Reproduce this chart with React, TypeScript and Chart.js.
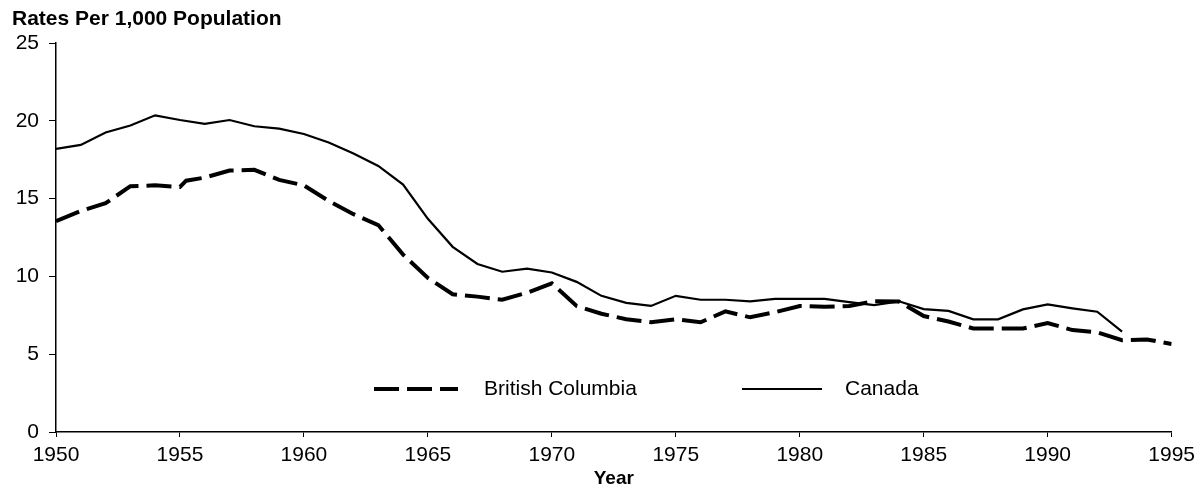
import React, { useEffect, useRef } from "react";
import { Chart, registerables } from "chart.js";

Chart.register(...registerables);

// ---- Data ----
const canadaYears = [
  1950, 1951, 1952, 1953, 1954, 1955, 1956, 1957, 1958, 1959,
  1960, 1961, 1962, 1963, 1964, 1965, 1966, 1967, 1968, 1969,
  1970, 1971, 1972, 1973, 1974, 1975, 1976, 1977, 1978, 1979,
  1980, 1981, 1982, 1983, 1984, 1985, 1986, 1987, 1988, 1989,
  1990, 1991, 1992, 1993,
];
const canadaRates = [
  18.2, 18.45, 19.25, 19.7, 20.35, 20.05, 19.8, 20.05, 19.65, 19.5,
  19.15, 18.6, 17.9, 17.1, 15.9, 13.7, 11.9, 10.8, 10.3, 10.5,
  10.25, 9.65, 8.75, 8.3, 8.1, 8.75, 8.5, 8.5, 8.4, 8.55,
  8.55, 8.55, 8.35, 8.15, 8.4, 7.9, 7.78, 7.24, 7.24, 7.88,
  8.2, 7.95, 7.73, 6.45,
];

const bcYears = [
  1950, 1951, 1952, 1953, 1954, 1955, 1955.25, 1956, 1957, 1958, 1959,
  1960, 1961, 1962, 1963, 1964, 1965, 1966, 1967, 1968, 1969,
  1970, 1971, 1972, 1973, 1974, 1975, 1976, 1977, 1978, 1979,
  1980, 1981, 1982, 1983, 1984, 1985, 1986, 1987, 1988, 1989,
  1990, 1991, 1992, 1993, 1994, 1995,
];
const bcRates = [
  13.55, 14.2, 14.7, 15.8, 15.85, 15.75, 16.15, 16.35, 16.8, 16.85, 16.2,
  15.85, 14.85, 14.0, 13.3, 11.4, 9.9, 8.85, 8.7, 8.5, 8.95,
  9.55, 8.1, 7.6, 7.25, 7.05, 7.25, 7.05, 7.75, 7.37, 7.7,
  8.1, 8.05, 8.1, 8.4, 8.38, 7.45, 7.1, 6.65, 6.65, 6.65,
  7.0, 6.55, 6.4, 5.9, 5.95, 5.65,
];

const xTickValues = [1950, 1955, 1960, 1965, 1970, 1975, 1980, 1985, 1990, 1995];
const yTickValues = [0, 5, 10, 15, 20, 25];

const seriesLabels = ["British Columbia", "Canada"];
const chartTitle = "Rates Per 1,000 Population";
const xAxisTitle = "Year";

const FONT = '"Liberation Sans", Arial, Helvetica, sans-serif';

const topTitlePlugin = {
  id: "topTitle",
  afterDraw(chart: any, _args: any, opts: any) {
    const ctx = chart.ctx;
    ctx.save();
    ctx.fillStyle = "#000";
    ctx.font = `bold 21px ${FONT}`;
    ctx.textAlign = "left";
    ctx.textBaseline = "alphabetic";
    ctx.fillText(opts.text, opts.x, opts.y);
    ctx.restore();
  },
};

const insideLegendPlugin = {
  id: "insideLegend",
  afterDatasetsDraw(chart: any, _args: any, opts: any) {
    const ctx = chart.ctx;
    chart.data.datasets.forEach((ds: any, i: number) => {
      const it = opts.items[i];
      if (!it) return;
      ctx.save();
      ctx.strokeStyle = ds.borderColor;
      ctx.lineWidth = ds.borderWidth;
      ctx.lineCap = "butt";
      ctx.setLineDash(ds.borderDash || []);
      ctx.beginPath();
      ctx.moveTo(it.x0, opts.y);
      ctx.lineTo(it.x1, opts.y);
      ctx.stroke();
      ctx.setLineDash([]);
      ctx.fillStyle = "#000";
      ctx.font = `21px ${FONT}`;
      ctx.textAlign = "left";
      ctx.textBaseline = "middle";
      ctx.fillText(ds.label, it.tx, opts.y);
      ctx.restore();
    });
  },
};

export default function App() {
  const canvasRef = useRef<HTMLCanvasElement | null>(null);

  useEffect(() => {
    const canvas = canvasRef.current;
    if (!canvas) return;

    const bcData = bcYears.map((x, i) => ({ x, y: bcRates[i] }));
    const caData = canadaYears.map((x, i) => ({ x, y: canadaRates[i] }));

    const chart = new Chart(canvas, {
      type: "line",
      data: {
        datasets: [
          {
            label: seriesLabels[0],
            data: bcData,
            borderColor: "#000",
            borderWidth: 4,
            borderDash: [25, 8],
            borderCapStyle: "butt",
            pointRadius: 0,
            tension: 0,
            fill: false,
          },
          {
            label: seriesLabels[1],
            data: caData,
            borderColor: "#000",
            borderWidth: 2.2,
            pointRadius: 0,
            tension: 0,
            fill: false,
          },
        ],
      },
      options: {
        responsive: false,
        animation: false,
        layout: { padding: { top: 43, right: 29, left: 0, bottom: 0 } },
        plugins: {
          legend: { display: false },
          tooltip: { enabled: false },
          topTitle: { text: chartTitle, x: 12, y: 25 },
          insideLegend: {
            y: 389,
            items: [
              { x0: 374, x1: 458, tx: 484 },
              { x0: 742, x1: 822, tx: 845 },
            ],
          },
        } as any,
        scales: {
          x: {
            type: "linear",
            min: 1950,
            max: 1995,
            afterBuildTicks: (s: any) => {
              s.ticks = xTickValues.map((v) => ({ value: v }));
            },
            afterFit: (s: any) => {
              s.height = 63;
            },
            grid: {
              drawOnChartArea: false,
              drawTicks: true,
              tickLength: 5,
              color: "#000",
            },
            border: { display: true, color: "#000", width: 1.5 },
            ticks: {
              color: "#000",
              font: { family: FONT, size: 21 },
              padding: 6,
              maxRotation: 0,
              autoSkip: false,
              callback: (v: any) => String(v),
            },
            title: {
              display: true,
              text: xAxisTitle,
              color: "#000",
              font: { family: FONT, size: 19, weight: "bold" },
              padding: { top: 0, bottom: 5 },
            },
          },
          y: {
            min: 0,
            max: 25,
            afterBuildTicks: (s: any) => {
              s.ticks = yTickValues.map((v) => ({ value: v }));
            },
            afterFit: (s: any) => {
              s.width = 56;
            },
            grid: {
              drawOnChartArea: false,
              drawTicks: true,
              tickLength: 7,
              color: "#000",
            },
            border: { display: true, color: "#000", width: 1.5 },
            ticks: {
              color: "#000",
              font: { family: FONT, size: 21 },
              padding: 10,
              callback: (v: any) => String(v),
            },
          },
        },
      },
      plugins: [topTitlePlugin, insideLegendPlugin],
    });

    return () => chart.destroy();
  }, []);

  return (
    <div style={{ position: "fixed", left: 0, top: 0, width: 1201, height: 495, background: "#fff" }}>
      <canvas ref={canvasRef} width={1201} height={495} style={{ display: "block" }} />
    </div>
  );
}
